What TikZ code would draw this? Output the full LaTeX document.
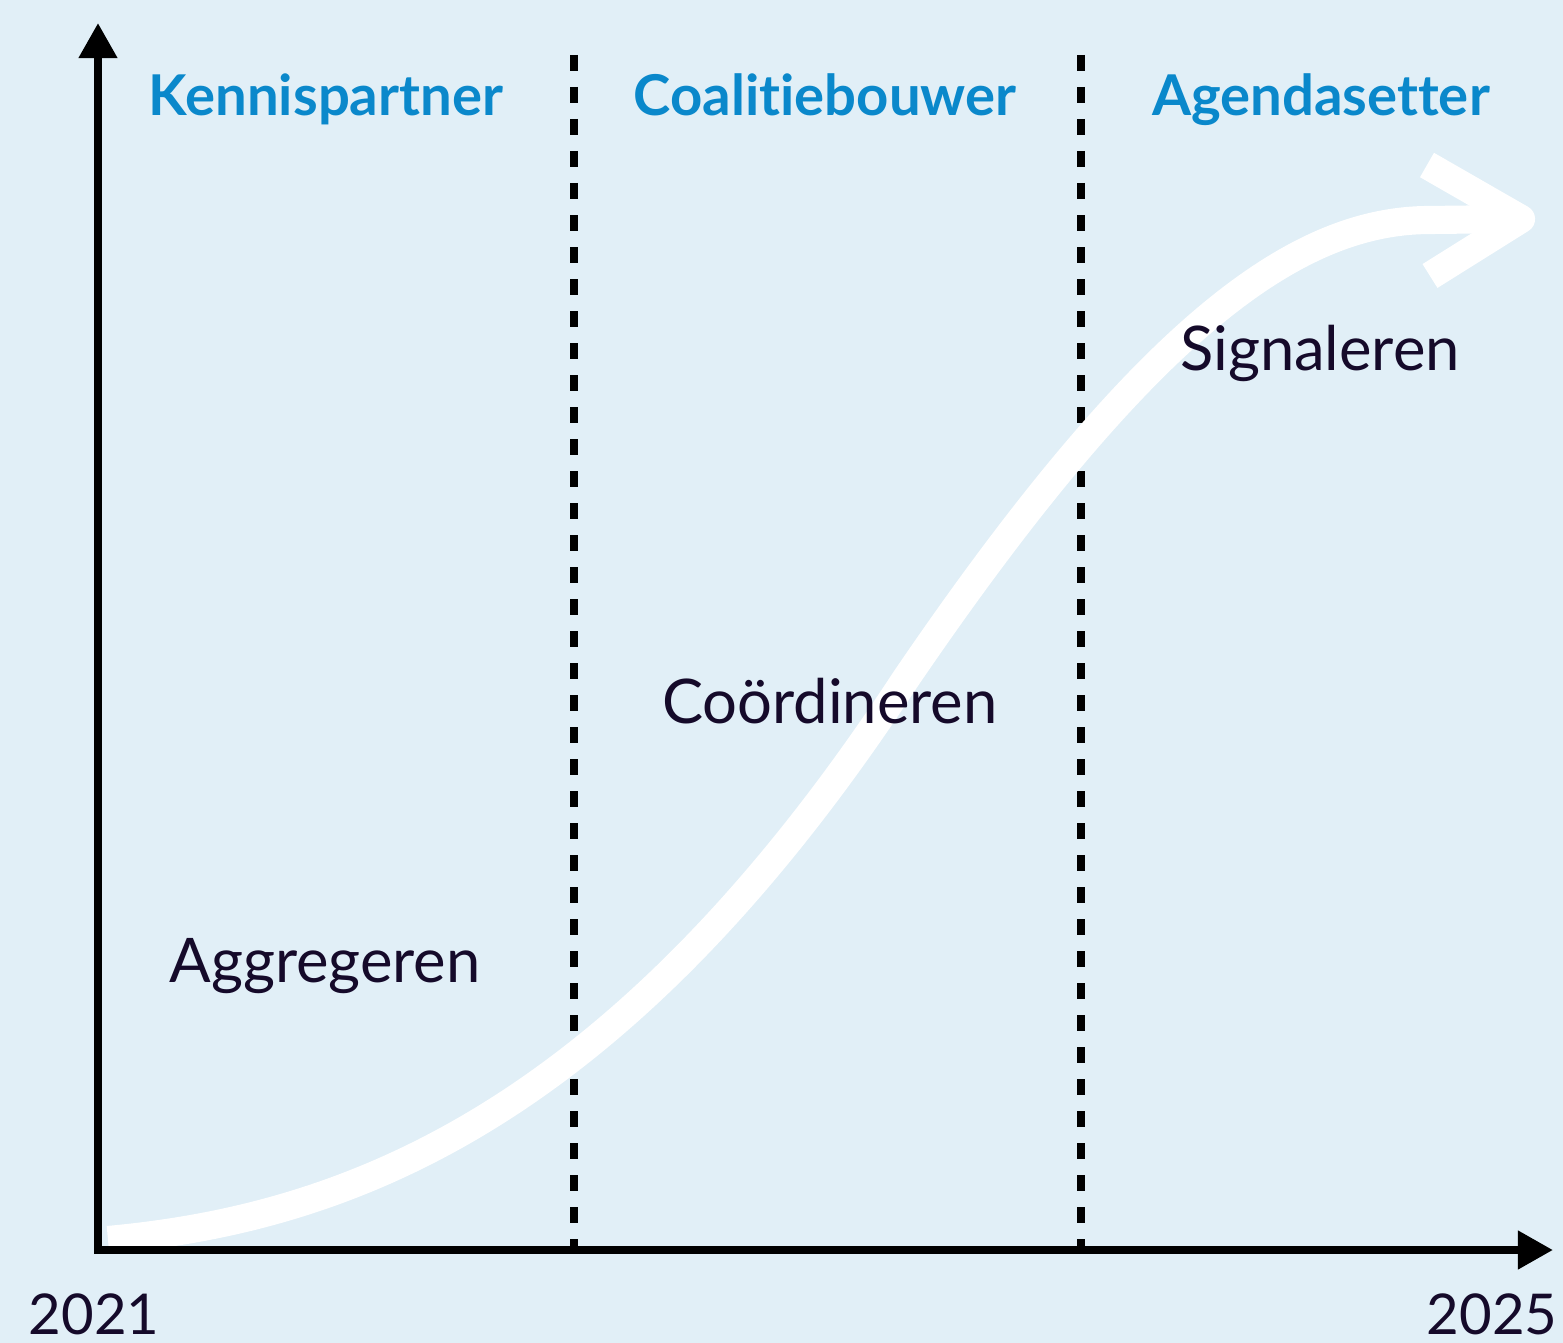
\documentclass[tikz,border=0pt]{standalone}
\usepackage{fontspec}
\setmainfont{Lato}[Ligatures=NoCommon]
\usetikzlibrary{arrows.meta}
\definecolor{bgblue}{HTML}{E1EFF7}
\definecolor{headblue}{HTML}{0A88CB}
\definecolor{inkdark}{HTML}{150A2A}
\begin{document}
\begin{tikzpicture}[
       x=0.01cm, y=-0.01cm,
       axis/.style={line width=2.3pt, line join=miter, {Triangle[length=10pt,width=10.5pt]}-{Triangle[length=10pt,width=10.5pt]}},
       divider/.style={line width=2.3pt, dash pattern=on 4.55pt off 4.55pt},
       growth/.style={white, line width=8pt},
       phase/.style={headblue, font=\fontsize{16}{19}\selectfont\bfseries, anchor=base},
       task/.style={inkdark, font=\fontsize{17.5}{20}\selectfont, anchor=base},
       year/.style={inkdark, font=\fontsize{16}{18}\selectfont, anchor=base, inner sep=0pt}
   ]

   \fill[bgblue] (0,0) rectangle (1563,1343);
   \useasboundingbox (0,0) rectangle (1563,1343);

   \coordinate (origin) at (98,1250);
   \coordinate (ytop) at (98,23);
   \coordinate (xend) at (1553,1250);

   \foreach \x in {574,1081} {
       \draw[divider] (\x,55) -- (\x,1250);
   }

   \draw[growth] (108,1240) .. controls (350,1218) and (620,1115) .. (905,680)
       .. controls (1150,320) and (1300,220) .. (1430,220) -- (1515,219);
   \draw[growth, line join=round] (1427,165) -- (1521,219) -- (1430,276);

   \draw[axis] (ytop) -- (origin) -- (xend);

   \node[phase] (kennis) at (326,116) {Kennispartner};
   \node[phase] (coalitie) at (825,116) {Coalitiebouwer};
   \node[phase] (agenda) at (1321,116) {Agendasetter};

   \node[task] (aggr) at (325,982) {Aggregeren};
   \node[task] (coord) at (830,723) {Coördineren};
   \node[task] (signal) at (1320,371) {Signaleren};

   \node[year] (start) at (94,1334) {2021};
   \node[year] (end) at (1492,1334) {2025};
   \end{tikzpicture}
\end{document}
